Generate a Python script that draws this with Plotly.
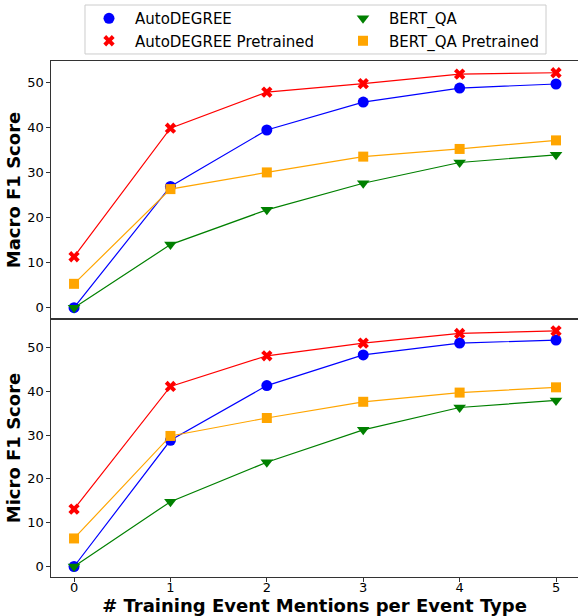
import plotly.graph_objects as go
from plotly.subplots import make_subplots

shots = [0, 1, 2, 3, 4, 5]
series_names = ["AutoDEGREE", "AutoDEGREE Pretrained", "BERT_QA", "BERT_QA Pretrained"]

macro_autodegree = [0.0, 26.9, 39.4, 45.6, 48.7, 49.6]
macro_autodegree_pre = [11.3, 39.8, 47.8, 49.7, 51.8, 52.1]
macro_bertqa = [0.0, 14.0, 21.7, 27.6, 32.2, 33.9]
macro_bertqa_pre = [5.3, 26.3, 30.0, 33.5, 35.2, 37.1]

micro_autodegree = [0.0, 28.8, 41.3, 48.3, 51.0, 51.7]
micro_autodegree_pre = [13.1, 41.1, 48.1, 51.0, 53.2, 53.8]
micro_bertqa = [0.0, 14.8, 23.8, 31.2, 36.3, 37.9]
micro_bertqa_pre = [6.4, 29.8, 33.9, 37.6, 39.7, 40.9]

y_ticks = [0, 10, 20, 30, 40, 50]
x_title = "# Training Event Mentions per Event Type"
y_titles = ["Macro F1 Score", "Micro F1 Score"]

colors = ["#0000ff", "#ff0000", "#008000", "#ffa500"]
symbols = ["circle", "x", "triangle-down", "square"]
msizes = [11, 10, 11, 10]
legend_groups = ["legend", "legend", "legend2", "legend2"]

macro = [macro_autodegree, macro_autodegree_pre, macro_bertqa, macro_bertqa_pre]
micro = [micro_autodegree, micro_autodegree_pre, micro_bertqa, micro_bertqa_pre]

FONT = "DejaVu Sans"

fig = make_subplots(rows=2, cols=1, shared_xaxes=True, vertical_spacing=0)

for row, data in ((1, macro), (2, micro)):
    for i, name in enumerate(series_names):
        fig.add_trace(go.Scatter(
            x=shots, y=data[i], mode="lines+markers", name=name,
            line=dict(color=colors[i], width=1.2),
            marker=dict(color=colors[i], symbol=symbols[i], size=msizes[i], line=dict(width=0)),
            showlegend=False,
        ), row=row, col=1)

# legend-only marker entries (matplotlib-style legend shows markers only)
for i, name in enumerate(series_names):
    fig.add_trace(go.Scatter(
        x=[None], y=[None], mode="markers", name=name,
        marker=dict(color=colors[i], symbol=symbols[i], size=msizes[i], line=dict(width=0)),
        legend=legend_groups[i], showlegend=True,
    ), row=1, col=1)

axis_common = dict(
    showgrid=False, zeroline=False, showline=True, linecolor="#333333", linewidth=1.3,
    ticks="outside", ticklen=3.5, tickcolor="#333333", tickwidth=1,
    tickfont=dict(family=FONT, size=13, color="#000000"),
)

title_font = dict(family=FONT, size=18, color="#000000")

fig.update_xaxes(**axis_common, range=[-0.239, 5.228], tickvals=shots, mirror=False)
fig.update_xaxes(row=1, col=1, showticklabels=False, ticks="", mirror=True)
fig.update_xaxes(row=2, col=1, mirror=True, ticks="outside", ticklabelstandoff=-5,
                 title=dict(text="<b>" + x_title + "</b>", font=title_font, standoff=5))

fig.update_yaxes(**axis_common, tickvals=y_ticks)
fig.update_yaxes(row=1, col=1, range=[-2.5, 54.7],
                 title=dict(text="<b>" + y_titles[0] + "</b>", font=title_font, standoff=1))
fig.update_yaxes(row=2, col=1, range=[-2.4, 56.5],
                 title=dict(text="<b>" + y_titles[1] + "</b>", font=title_font, standoff=1))

legend_common = dict(
    orientation="v", y=1.1143, yanchor="top", xanchor="left",
    bgcolor="rgba(0,0,0,0)", borderwidth=0,
    font=dict(family=FONT, size=15, color="#000000"),
    itemwidth=42, traceorder="normal",
)

fig.update_layout(
    width=578, height=616,
    margin=dict(l=51, r=0, t=61, b=39),
    paper_bgcolor="white", plot_bgcolor="white",
    font=dict(family=FONT, color="#000000"),
    legend=dict(x=0.0607, **legend_common),
    legend2=dict(x=0.5427, **legend_common),
    shapes=[dict(
        type="rect", xref="paper", yref="paper",
        x0=0.0645, x1=0.9393, y0=1.0136, y1=1.1085,
        line=dict(color="#cccccc", width=1), fillcolor="rgba(0,0,0,0)", layer="below",
    )],
)

fig.write_html("out.html")
